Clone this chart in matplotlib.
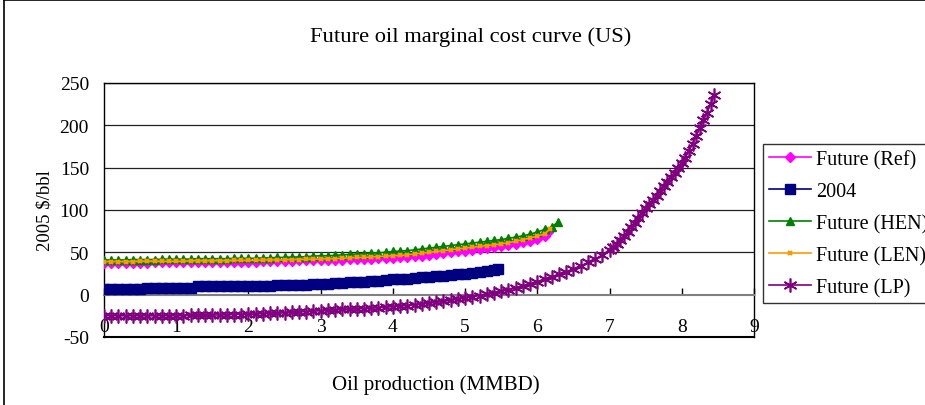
import numpy as np
import matplotlib
matplotlib.use('Agg')
import matplotlib.pyplot as plt
from matplotlib.lines import Line2D

plt.rcParams['font.family'] = ['Liberation Serif', 'DejaVu Serif']
plt.rcParams['axes.unicode_minus'] = False

# data (production in MMBD, cost in 2005 $/bbl)
ref_x = [0.0, 0.1, 0.2, 0.3, 0.4, 0.5, 0.6, 0.7, 0.8, 0.9,
         1.0, 1.1, 1.2, 1.3, 1.4, 1.5, 1.6, 1.7, 1.8, 1.9,
         2.0, 2.1, 2.2, 2.3, 2.4, 2.5, 2.6, 2.7, 2.8, 2.9,
         3.0, 3.1, 3.2, 3.3, 3.4, 3.5, 3.6, 3.7, 3.8, 3.9,
         4.0, 4.1, 4.2, 4.3, 4.4, 4.5, 4.6, 4.7, 4.8, 4.9,
         5.0, 5.1, 5.2, 5.3, 5.4, 5.5, 5.6, 5.7, 5.8, 5.9,
         6.0, 6.1, 6.15]
ref_y = [37, 37, 37, 37.5, 37.5, 37.5, 37.5, 38, 38, 38,
         38, 38, 38.5, 38.5, 38.5, 38.5, 38.5, 39, 39, 39,
         39, 39, 39.5, 39.5, 40, 40, 40, 40.5, 40.5, 41,
         41, 41, 41.5, 41.5, 42, 42, 42.5, 42.5, 43, 43,
         43.5, 44, 45, 45.5, 46, 47, 48, 49, 50, 51,
         52, 53, 54, 55, 56, 57, 58.5, 60, 62, 63,
         66, 69, 74]

y2004_x = [0.0, 0.1, 0.2, 0.3, 0.4, 0.5, 0.6, 0.7, 0.8, 0.9,
           1.0, 1.1, 1.2, 1.3, 1.4, 1.5, 1.6, 1.7, 1.8, 1.9,
           2.0, 2.1, 2.2, 2.3, 2.4, 2.5, 2.6, 2.7, 2.8, 2.9,
           3.0, 3.1, 3.2, 3.3, 3.4, 3.5, 3.6, 3.7, 3.8, 3.9,
           4.0, 4.1, 4.2, 4.3, 4.4, 4.5, 4.6, 4.7, 4.8, 4.9,
           5.0, 5.1, 5.2, 5.3, 5.4, 5.45]
y2004_y = [7, 7, 7, 7, 7, 7, 7.5, 7.5, 7.5, 7.5,
           7.5, 7.5, 8, 10, 10, 10, 10, 10, 10, 10,
           10.5, 10.5, 10.5, 10.5, 11, 11, 11, 11.5, 12, 12.5,
           13, 13, 13.5, 14, 14.5, 15, 15.5, 16, 16.5, 17,
           18, 18.5, 19, 20, 20.5, 21, 22, 22.5, 23, 24,
           25, 26, 27, 28, 29.5, 30]

hen_x = [0.0, 0.1, 0.2, 0.3, 0.4, 0.5, 0.6, 0.7, 0.8, 0.9,
         1.0, 1.1, 1.2, 1.3, 1.4, 1.5, 1.6, 1.7, 1.8, 1.9,
         2.0, 2.1, 2.2, 2.3, 2.4, 2.5, 2.6, 2.7, 2.8, 2.9,
         3.0, 3.1, 3.2, 3.3, 3.4, 3.5, 3.6, 3.7, 3.8, 3.9,
         4.0, 4.1, 4.2, 4.3, 4.4, 4.5, 4.6, 4.7, 4.8, 4.9,
         5.0, 5.1, 5.2, 5.3, 5.4, 5.5, 5.6, 5.7, 5.8, 5.9,
         6.0, 6.1, 6.2, 6.29]
hen_y = [41, 41, 41, 41, 41.5, 41.5, 41.5, 41.5, 42, 42,
         42, 42, 42, 42.5, 42.5, 42.5, 42.5, 42.5, 43, 43,
         43, 43, 43.5, 43.5, 44, 44, 44.5, 44.5, 45, 45.5,
         46, 46, 46.5, 47, 47.5, 48, 48.5, 49, 49.5, 50,
         51, 51.5, 52, 53, 54, 55, 56, 57, 58, 59,
         60, 61, 62, 63, 64, 65, 66.5, 68, 69.5, 71.5,
         74, 77, 80, 86]

len_x = [0.0, 0.1, 0.2, 0.3, 0.4, 0.5, 0.6, 0.7, 0.8, 0.9,
         1.0, 1.1, 1.2, 1.3, 1.4, 1.5, 1.6, 1.7, 1.8, 1.9,
         2.0, 2.1, 2.2, 2.3, 2.4, 2.5, 2.6, 2.7, 2.8, 2.9,
         3.0, 3.1, 3.2, 3.3, 3.4, 3.5, 3.6, 3.7, 3.8, 3.9,
         4.0, 4.1, 4.2, 4.3, 4.4, 4.5, 4.6, 4.7, 4.8, 4.9,
         5.0, 5.1, 5.2, 5.3, 5.4, 5.5, 5.6, 5.7, 5.8, 5.9,
         6.0, 6.1, 6.18]
len_y = [39, 39, 39, 39, 39, 39.5, 39.5, 39.5, 39.5, 39.5,
         39.5, 39.5, 40, 40, 40, 40, 40, 40, 40.5, 40.5,
         40.5, 40.5, 41, 41, 41, 41, 41.5, 41.5, 42, 42,
         42, 42.5, 42.5, 43, 43.5, 44, 44, 44.5, 45, 45.5,
         46, 46.5, 47, 48, 49, 50, 51, 52, 53, 54,
         55, 56, 57, 58, 59, 60, 61.5, 63, 65, 67,
         69, 72, 78]

lp_x = [0.0, 0.1, 0.2, 0.3, 0.4, 0.5, 0.6, 0.7, 0.8, 0.9,
        1.0, 1.1, 1.2, 1.3, 1.4, 1.5, 1.6, 1.7, 1.8, 1.9,
        2.0, 2.1, 2.2, 2.3, 2.4, 2.5, 2.6, 2.7, 2.8, 2.9,
        3.0, 3.1, 3.2, 3.3, 3.4, 3.5, 3.6, 3.7, 3.8, 3.9,
        4.0, 4.1, 4.2, 4.3, 4.4, 4.5, 4.6, 4.7, 4.8, 4.9,
        5.0, 5.1, 5.2, 5.3, 5.4, 5.5, 5.6, 5.7, 5.8, 5.9,
        6.0, 6.1, 6.2, 6.3, 6.4, 6.5, 6.6, 6.7, 6.8, 6.9,
        7.0, 7.05, 7.1, 7.15, 7.2, 7.25, 7.3, 7.35, 7.4, 7.45,
        7.5, 7.55, 7.6, 7.65, 7.7, 7.75, 7.8, 7.85, 7.9, 7.95,
        8.0, 8.05, 8.1, 8.15, 8.2, 8.25, 8.3, 8.35, 8.4, 8.45]
lp_y = [-25, -25, -25, -25, -25, -25, -25, -25, -25, -25,
        -25, -25, -24.5, -24.5, -24.5, -24, -24, -24, -23.5, -23.5,
        -23, -23, -22.5, -22, -22, -21.5, -21, -20.5, -20, -19.5,
        -19, -18.5, -18, -17.5, -17, -17, -16.5, -16, -15.5, -15,
        -14, -13.5, -13, -12, -11, -10, -9, -8, -6.5, -5,
        -4, -2.5, -1, 0.5, 2, 4, 6, 8, 10, 12.5,
        15, 18, 21, 24, 27, 30, 34, 38, 42, 47,
        53, 56, 60, 64, 69, 74, 80, 85, 90, 97,
        102, 107, 112, 117, 122, 128, 133, 139, 144, 150,
        155, 162, 170, 178, 187, 197, 206, 215, 225, 236]

x_ticks = [0, 1, 2, 3, 4, 5, 6, 7, 8, 9]
y_ticks = [-50, 0, 50, 100, 150, 200, 250]

fig = plt.figure(figsize=(9.25, 4.06), dpi=100)
ax = fig.add_axes([104/925, 1-338/406, 650/925, 254/406])

# horizontal gridlines
for v in y_ticks[2:]:
    ax.axhline(v, color='#202020', lw=0.9, zorder=1)

asterisk = (6, 2, 0)
ax.plot(ref_x, ref_y, color='#FF00FF', marker='D', ms=5, lw=1.2, label='Future (Ref)', zorder=3)
ax.plot(y2004_x, y2004_y, color='#000080', marker='s', ms=7, lw=1.2, label='2004', zorder=3)
ax.plot(hen_x, hen_y, color='#008000', marker='^', ms=6, lw=1.2, label='Future (HEN)', zorder=3)
ax.plot(len_x, len_y, color='#FF9900', marker='x', ms=3.5, mew=1.6, lw=1.2, label='Future (LEN)', zorder=3)
ax.plot(lp_x, lp_y, color='#800080', marker=asterisk, ms=10, mew=1.2, lw=1.2, label='Future (LP)', zorder=3)

ax.set_xlim(0, 9)
ax.set_ylim(-50, 250)
ax.set_xticks(x_ticks)
ax.set_yticks(y_ticks)

# x axis crosses at zero, gray, ticks pointing up
ax.spines['bottom'].set_position(('data', 0))
ax.spines['bottom'].set_color('#808080')
ax.spines['bottom'].set_linewidth(1.5)
for s in ['left', 'top', 'right']:
    ax.spines[s].set_color('black')
    ax.spines[s].set_linewidth(1.0)
ax.axhline(-50, color='black', lw=1.5, clip_on=False, zorder=4)

ax.tick_params(axis='x', direction='in', length=5, width=1, color='black',
               pad=17, labelsize=14)
ax.tick_params(axis='y', length=0, pad=10.8, labelsize=14)

ax.set_xlabel('Oil production (MMBD)', fontsize=15)
ax.xaxis.set_label_coords(0.511, -0.145)
ax.set_ylabel('2005 $/bbl', fontsize=13.5)
ax.yaxis.set_label_coords(-0.078, 0.5)

fig.text(471/925, 1-37/406, 'Future oil marginal cost curve (US)', fontsize=16.2,
         ha='center', va='center')

leg = fig.legend(loc='upper left', bbox_to_anchor=(763/925, 1-145/406),
                 fontsize=14.5, frameon=True, fancybox=False, edgecolor='black',
                 handlelength=2.07, handletextpad=0.25, labelspacing=0.63,
                 borderpad=0.3, borderaxespad=0)
leg.get_frame().set_linewidth(1.0)

# outer chart border (top and left visible)
fig.add_artist(Line2D([4/925, 4/925], [0, 1-1/406], color='black', lw=1.2))
fig.add_artist(Line2D([4/925, 1], [1-1/406, 1-1/406], color='black', lw=1.2))

fig.savefig('out.png', dpi=100)
